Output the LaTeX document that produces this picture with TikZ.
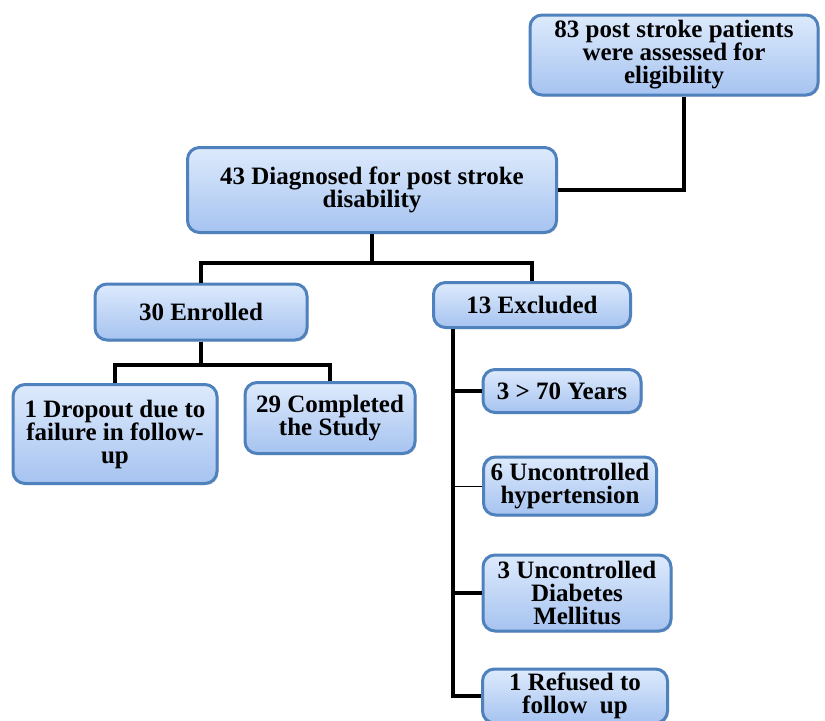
\documentclass[tikz,border=0pt]{standalone}
\usepackage{fontspec}
\setmainfont{Liberation Serif}
\usetikzlibrary{positioning,shadows}
\definecolor{boxedge}{HTML}{4F81BD}
\definecolor{boxtop}{HTML}{DDEAFC}
\definecolor{boxbot}{HTML}{A6C3F0}

\begin{document}
\begin{tikzpicture}[x=0.5pt,y=-0.5pt,
    stagebox/.style={draw=boxedge, line width=1.5pt, rounded corners=6pt,
      top color=boxtop, bottom color=boxbot, align=center, inner sep=2pt,
      font=\bfseries\fontsize{12.5}{11.5}\selectfont,
      drop shadow={opacity=0.25, shadow xshift=0.8pt, shadow yshift=-0.8pt}},
    link/.style={line width=2pt},
    thinlink/.style={line width=0.5pt}]
    \useasboundingbox (0,0) rectangle (825,720);
    \clip (0,0) rectangle (825,720);

    \node[stagebox, minimum width=144pt, minimum height=40pt] (assessed) at (674,55) {83 post stroke patients\\were assessed for\\eligibility};
    \node[stagebox, minimum width=184.5pt, minimum height=42.5pt] (diagnosed) at (372,190) {43 Diagnosed for post stroke\\disability};
    \node[stagebox, minimum width=106pt, minimum height=28pt] (enrolled) at (201,312) {30 Enrolled};
    \node[stagebox, minimum width=98.5pt, minimum height=22.5pt] (excluded) at (532,305) {13 Excluded};
    \node[stagebox, minimum width=102pt, minimum height=49.5pt] (dropout) at (115,434) {1 Dropout due to\\failure in follow-\\up};
    \node[stagebox, minimum width=85pt, minimum height=35.5pt] (completed) at (330,418) {29 Completed\\the Study};
    \node[stagebox, minimum width=79pt, minimum height=21.5pt] (older) at (562,391) {3 > 70 Years};
    \node[stagebox, minimum width=86.5pt, minimum height=29pt] (hypert) at (570,486) {6 Uncontrolled\\hypertension};
    \node[stagebox, minimum width=94pt, minimum height=38pt] (diabetes) at (577,593) {3 Uncontrolled\\Diabetes\\Mellitus};
    \node[stagebox, minimum width=92.5pt, minimum height=27pt] (refused) at (575,696) {1 Refused to\\follow\ \ up};

    \coordinate (split1) at (diagnosed.south |- 0,263);
    \coordinate (split2) at (enrolled.south |- 0,365);
    \coordinate (spine) at ([xshift=10.5pt]excluded.south west);

    \draw[link] ([xshift=5pt]assessed.south) |- (diagnosed.east);
    \draw[link] (diagnosed.south) -- (split1);
    \draw[link] (enrolled.north) |- (split1) -| (excluded.north);
    \draw[link] (enrolled.south) -- (split2);
    \draw[link] (dropout.north) |- (split2) -| (completed.north);
    \draw[link] (spine) |- (refused.west);
    \draw[link] (older.west) -- (older.west -| spine);
    \draw[thinlink] (hypert.west) -- (hypert.west -| spine);
    \draw[link] (diabetes.west) -- (diabetes.west -| spine);
  \end{tikzpicture}
\end{document}
